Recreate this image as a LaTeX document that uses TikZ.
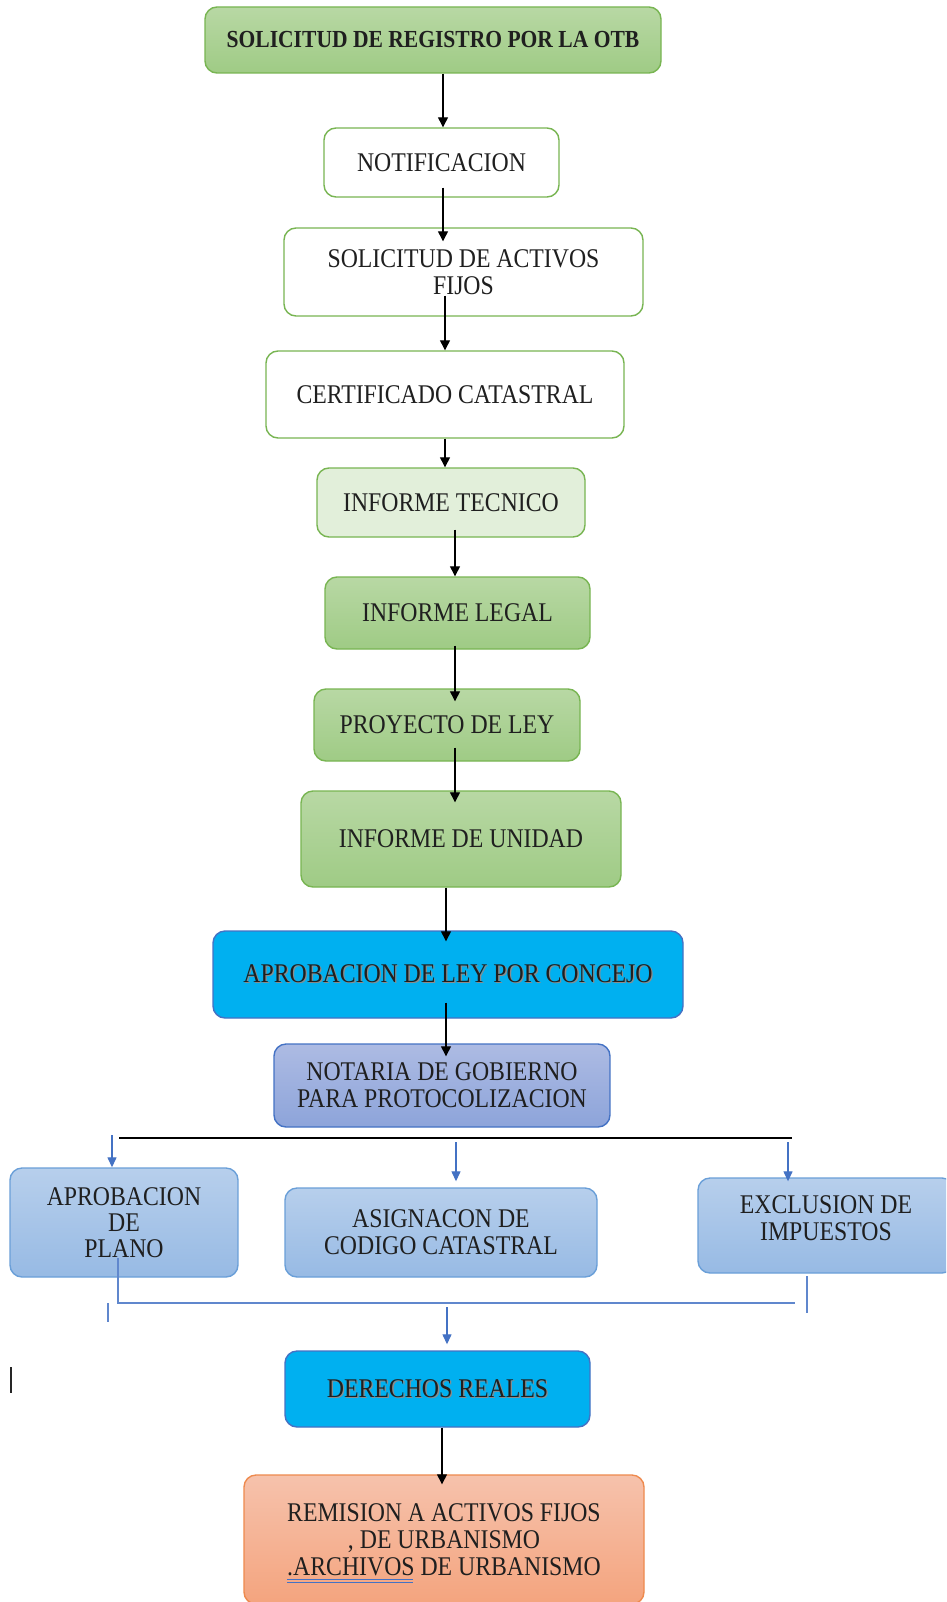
\documentclass[tikz,border=0pt]{standalone}
\usepackage{fontspec}
\setmainfont{Liberation Serif}[FakeStretch=0.88]
\usetikzlibrary{arrows.meta,calc}
\definecolor{gbd}{HTML}{78B552}
\definecolor{gtop}{HTML}{B8D8A4}
\definecolor{gbot}{HTML}{9FCB85}
\definecolor{gpale}{HTML}{E2EFDA}
\definecolor{cyanfill}{HTML}{00B0F0}
\definecolor{bbd}{HTML}{4472C4}
\definecolor{ntop}{HTML}{ADBBE3}
\definecolor{nbot}{HTML}{8DA4DA}
\definecolor{ltop}{HTML}{B7CFEC}
\definecolor{lbot}{HTML}{97BAE4}
\definecolor{lbd}{HTML}{6A9FD8}
\definecolor{stop}{HTML}{F6C2AC}
\definecolor{sbot}{HTML}{F4A47E}
\definecolor{sbd}{HTML}{EE8A4E}
\newcommand\shtext[1]{\makebox[0pt][l]{\hspace*{1.3pt}\raisebox{-1.3pt}{\textcolor{black!45}{#1}}}#1}
\begin{document}
\begin{tikzpicture}[x=1pt,y=-1pt,
  box/.style={rounded corners=12pt, line width=1.4pt, align=center, inner sep=0pt,
    font=\fontsize{27}{27}\selectfont, text=black!88},
  wbox/.style={box, draw=gbd, fill=white},
  gbox/.style={box, draw=gbd, top color=gtop, bottom color=gbot},
  pbox/.style={box, draw=gbd, fill=gpale},
  cbox/.style={box, draw=bbd, fill=cyanfill},
  nbox/.style={box, draw=bbd, top color=ntop, bottom color=nbot},
  lbox/.style={box, draw=lbd, top color=ltop, bottom color=lbot},
  sbox/.style={box, draw=sbd, top color=stop, bottom color=sbot},
  arr/.style={draw=black, line width=1.3pt, -{Triangle[width=10pt,length=10pt]}},
  barr/.style={draw=bbd, line width=1.3pt, -{Triangle[width=9pt,length=10pt]}},
  bline/.style={draw=bbd!85, line width=1.6pt},
]
\useasboundingbox (0,0) rectangle (946,1602);
\clip (0,0) rectangle (946,1602);
\fill[white] (0,0) rectangle (946,1602);

% nodes
\node[gbox, minimum width=456pt, minimum height=66pt] (reg) at (433,40)
  {\fontsize{24.5}{27}\selectfont\bfseries SOLICITUD DE REGISTRO POR LA OTB};
\node[wbox, minimum width=235pt, minimum height=69pt] (notif) at (441.5,162.5) {NOTIFICACION};
\node[wbox, minimum width=359pt, minimum height=88pt] (activos) at (463.5,272)
  {SOLICITUD DE ACTIVOS\\FIJOS};
\node[wbox, minimum width=358pt, minimum height=87pt] (cert) at (445,394.5) {CERTIFICADO CATASTRAL};
\node[pbox, minimum width=268pt, minimum height=69pt] (tec) at (451,502.5) {INFORME TECNICO};
\node[gbox, minimum width=265pt, minimum height=72pt] (legal) at (457.5,613) {INFORME LEGAL};
\node[gbox, minimum width=266pt, minimum height=72pt] (proy) at (447,725) {PROYECTO DE LEY};
\node[gbox, minimum width=320pt, minimum height=96pt] (unidad) at (461,839) {INFORME DE UNIDAD};
\node[cbox, minimum width=470pt, minimum height=87pt] (concejo) at (448,974.5)
  {\shtext{APROBACION DE LEY POR CONCEJO}};
\node[nbox, minimum width=336pt, minimum height=83pt] (notaria) at (442,1085.5)
  {NOTARIA DE GOBIERNO\\PARA PROTOCOLIZACION};
\node[lbox, minimum width=228pt, minimum height=109pt, font=\fontsize{27}{26}\selectfont] (plano) at (124,1222.5)
  {APROBACION\\DE\\PLANO};
\node[lbox, minimum width=312pt, minimum height=89pt] (asign) at (441,1232.5)
  {ASIGNACON DE\\CODIGO CATASTRAL};
\node[lbox, minimum width=256pt, minimum height=95pt] (exclus) at (826,1225.5)
  {EXCLUSION DE\\IMPUESTOS\\[-13pt]};
\node[cbox, minimum width=305pt, minimum height=76pt] (derechos) at (437.5,1389)
  {\shtext{DERECHOS REALES}};
\node[sbox, minimum width=400pt, minimum height=129pt] (remision) at (444,1539.5)
  {REMISION A ACTIVOS FIJOS\\, DE URBANISMO\\.ARCHIVOS DE URBANISMO};

% helper coordinates
\coordinate (x443) at (443,0);
\coordinate (x445) at (445,0);
\coordinate (x455) at (455,0);
\coordinate (x446) at (446,0);
\coordinate (x442) at (442,0);

% main chain
\draw[arr] (reg.south -| x443) -- (notif.north -| x443);
\draw[arr] ($(notif.south -| x443)+(0,-10)$) -- ($(activos.north -| x443)+(0,14)$);
\draw[arr] ($(activos.south -| x445)+(0,-21)$) -- (cert.north -| x445);
\draw[arr] (cert.south -| x445) -- (tec.north -| x445);
\draw[arr] ($(tec.south -| x455)+(0,-8)$) -- (legal.north -| x455);
\draw[arr] ($(legal.south -| x455)+(0,-4)$) -- ($(proy.north -| x455)+(0,13)$);
\draw[arr] ($(proy.south -| x455)+(0,-14)$) -- ($(unidad.north -| x455)+(0,12)$);
\draw[arr] (unidad.south -| x446) -- ($(concejo.north -| x446)+(0,11)$);
\draw[arr] ($(concejo.south -| x446)+(0,-16)$) -- ($(notaria.north -| x446)+(0,13)$);

% distribution line
\coordinate (dl) at (119,1138);
\coordinate (dr) at (792,1138);
\draw[black, line width=1.8pt] (dl) -- (dr);
\coordinate (b1) at (112,1135);
\coordinate (b2) at (456,1142);
\coordinate (b3) at (788,1142);
\draw[barr] (b1) -- (plano.north -| b1);
\draw[barr] (b2) -- ($(asign.north -| b2)+(0,-6)$);
\draw[barr] (b3) -- ($(exclus.north -| b3)+(0,4)$);

% collecting bracket
\coordinate (k1) at (118,1258);
\coordinate (k2) at (118,1303);
\coordinate (k3) at (795,1303);
\draw[bline] (k1) -- (k2) -- (k3);
\coordinate (r1) at (807,1276);
\coordinate (r2) at (807,1313);
\draw[bline] (r1) -- (r2);
\coordinate (t1) at (108,1303);
\coordinate (t2) at (108,1322);
\draw[bline] (t1) -- (t2);
\coordinate (m1) at (447,1307);
\draw[barr] (m1) -- ($(derechos.north -| m1)+(0,-6)$);

% stray mark
\coordinate (s1) at (11,1367);
\coordinate (s2) at (11,1393);
\draw[black!85, line width=2pt] (s1) -- (s2);

% final arrow
\draw[arr] (derechos.south -| x442) -- ($(remision.north -| x442)+(0,10)$);

% underline under .ARCHIVOS
\draw[bbd, line width=0.9pt] (287,1579) -- (413,1579);
\draw[bbd, line width=0.9pt] (287,1582.5) -- (413,1582.5);
\end{tikzpicture}
\end{document}
